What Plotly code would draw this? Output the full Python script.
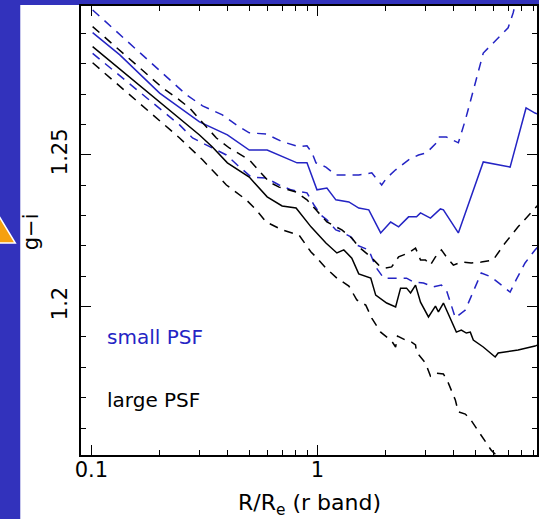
import plotly.graph_objects as go

# ---- data ----
small_up_x = [0.1012, 0.2634, 0.310, 0.3796, 0.4375, 0.4991, 0.5929, 0.6976, 0.8289, 0.8988, 0.9458, 0.9849, 1.090, 1.206, 1.419, 1.523, 1.739, 1.810, 1.924, 2.024, 2.217, 2.530, 2.800, 3.037, 3.361, 3.429, 3.719, 4.201, 4.511, 4.993, 5.415, 6.177, 6.976, 7.340, 7.490, 7.643]
small_up_y = [1.2978, 1.2698, 1.2662, 1.2632, 1.2599, 1.2573, 1.2569, 1.2544, 1.2527, 1.2530, 1.2507, 1.2474, 1.2460, 1.2434, 1.2434, 1.2434, 1.2441, 1.2424, 1.2401, 1.2424, 1.2451, 1.2484, 1.2500, 1.2507, 1.2540, 1.2559, 1.2559, 1.2540, 1.2615, 1.2737, 1.2836, 1.2879, 1.2919, 1.2968, 1.2995, 1.3021]

small_med_x = [0.1012, 0.1335, 0.2003, 0.2454, 0.3006, 0.3994, 0.4991, 0.5990, 0.8123, 0.8988, 0.995, 1.101, 1.206, 1.377, 1.523, 1.687, 1.904, 2.108, 2.286, 2.530, 2.744, 2.857, 3.162, 3.499, 3.608, 4.201, 5.415, 7.118, 8.374, 9.175, 9.458]
small_med_y = [1.2903, 1.2830, 1.2704, 1.2655, 1.2609, 1.2566, 1.2516, 1.2516, 1.2474, 1.2474, 1.2385, 1.2391, 1.2352, 1.2345, 1.2325, 1.2319, 1.2243, 1.2279, 1.2263, 1.2296, 1.2296, 1.2309, 1.2292, 1.2322, 1.2319, 1.2243, 1.2477, 1.2460, 1.2655, 1.2638, 1.2635]

small_lo_x = [0.1012, 0.2454, 0.280, 0.3429, 0.3954, 0.4419, 0.5093, 0.5929, 0.6768, 0.7645, 0.8988, 0.9652, 1.036, 1.101, 1.206, 1.282, 1.405, 1.493, 1.687, 1.810, 1.963, 2.217, 2.479, 2.662, 2.946, 3.260, 3.536, 3.719, 4.075, 4.511, 5.306, 5.870, 7.118, 7.566, 8.289, 9.175, 9.458]
small_lo_y = [1.2835, 1.2599, 1.2556, 1.2523, 1.2500, 1.2467, 1.2427, 1.2424, 1.2401, 1.2385, 1.2375, 1.2335, 1.2302, 1.2286, 1.2253, 1.2246, 1.2230, 1.2203, 1.2187, 1.2131, 1.2094, 1.2094, 1.2094, 1.2081, 1.2078, 1.2065, 1.2071, 1.2055, 1.1963, 1.1989, 1.2111, 1.2098, 1.2048, 1.2088, 1.2144, 1.2187, 1.2197]

large_up_x = [0.1012, 0.2065, 0.2454, 0.2716, 0.3228, 0.3572, 0.4075, 0.4991, 0.6113, 0.6768, 0.8042, 0.8988, 0.9849, 1.101, 1.282, 1.419, 1.523, 1.721, 1.866, 2.004, 2.129, 2.286, 2.530, 2.716, 2.857, 3.006, 3.162, 3.327, 3.536, 3.719, 3.994, 4.331, 4.794, 5.306, 5.991, 6.768, 7.722, 8.810, 9.458]
large_up_y = [1.2923, 1.2721, 1.2681, 1.2655, 1.2592, 1.2556, 1.2523, 1.2484, 1.2411, 1.2394, 1.2378, 1.2352, 1.2319, 1.2279, 1.2253, 1.2226, 1.2197, 1.2164, 1.2137, 1.2127, 1.2131, 1.2164, 1.2177, 1.2193, 1.2154, 1.2154, 1.2137, 1.2164, 1.2187, 1.2164, 1.2137, 1.2147, 1.2144, 1.2147, 1.2154, 1.2210, 1.2263, 1.2312, 1.2335]

large_med_x = [0.1012, 0.2454, 0.3006, 0.3429, 0.3994, 0.4991, 0.5990, 0.6976, 0.8042, 0.9363, 1.090, 1.219, 1.308, 1.419, 1.523, 1.721, 1.810, 2.024, 2.217, 2.332, 2.479, 2.582, 2.716, 2.857, 3.099, 3.327, 3.429, 3.608, 3.913, 4.117, 4.331, 4.557, 4.746, 4.893, 5.415, 6.114, 6.304, 7.722, 9.175, 9.458]
large_med_y = [1.2857, 1.2622, 1.2566, 1.2526, 1.2474, 1.2427, 1.2362, 1.2332, 1.2325, 1.2263, 1.2210, 1.2177, 1.2187, 1.2160, 1.2108, 1.2094, 1.2038, 1.2012, 1.1999, 1.2061, 1.2061, 1.2045, 1.2071, 1.2015, 1.1966, 1.2002, 1.1983, 1.2012, 1.1950, 1.1916, 1.1923, 1.1913, 1.1916, 1.1890, 1.1867, 1.1834, 1.1847, 1.1857, 1.1870, 1.1874]

large_lo_x = [0.1012, 0.2454, 0.310, 0.3954, 0.4842, 0.5358, 0.5929, 0.6976, 0.8289, 0.9363, 0.9849, 1.090, 1.219, 1.377, 1.493, 1.636, 1.739, 1.904, 2.129, 2.217, 2.262, 2.454, 2.609, 2.716, 2.744, 3.006, 3.162, 3.327, 3.608, 3.796, 4.075, 4.201, 4.511, 4.746, 5.147, 5.870, 6.177, 6.430]
large_lo_y = [1.2804, 1.2556, 1.2484, 1.2401, 1.2352, 1.2319, 1.2279, 1.2253, 1.2236, 1.2180, 1.2164, 1.2127, 1.2094, 1.2068, 1.2022, 1.2005, 1.1962, 1.1916, 1.1887, 1.1867, 1.1903, 1.1890, 1.1883, 1.1874, 1.1850, 1.1814, 1.1771, 1.1781, 1.1778, 1.1748, 1.1692, 1.1653, 1.1646, 1.1629, 1.1590, 1.1527, 1.1511, 1.1494]

x_major = [0.1, 1]
x_major_text = ["0.1", "1"]
x_minor = [0.2, 0.3, 0.4, 0.5, 0.6, 0.7, 0.8, 0.9, 2, 3, 4, 5, 6, 7, 8, 9]
y_major = [1.2, 1.25]
y_major_text = ["1.2", "1.25"]
y_minor = [1.16, 1.17, 1.18, 1.19, 1.21, 1.22, 1.23, 1.24, 1.26, 1.27, 1.28, 1.29]

BLUE = "#2424c4"
BLACK = "#000000"
SLIDE = "#3232bc"
FONT = "DejaVu Sans"

fig = go.Figure()
series = [
    (small_up_x, small_up_y, BLUE, "9px,7px"),
    (small_lo_x, small_lo_y, BLUE, "9px,7px"),
    (small_med_x, small_med_y, BLUE, "solid"),
    (large_up_x, large_up_y, BLACK, "9px,7px"),
    (large_lo_x, large_lo_y, BLACK, "9px,7px"),
    (large_med_x, large_med_y, BLACK, "solid"),
]
for xs, ys, col, dash in series:
    fig.add_trace(go.Scatter(x=xs, y=ys, mode="lines",
                             line=dict(color=col, width=1.5, dash=dash),
                             showlegend=False, hoverinfo="skip"))

W, H = 539, 519
L, R, T, B = 81, 0, 6, 64
pw, ph = W - L - R, H - T - B

def px2paper_x(px):
    return (px - L) / pw

def px2paper_y(py):
    return (H - B - py) / ph

fig.update_layout(
    width=W, height=H,
    margin=dict(l=L, r=R, t=T, b=B, pad=0),
    paper_bgcolor=SLIDE,
    plot_bgcolor="white",
    font=dict(family=FONT, size=21, color="black"),
    xaxis=dict(type="log", range=[-1.0463, 0.9714],
               tickmode="array", tickvals=x_major, ticktext=x_major_text,
               ticks="inside", ticklen=10, tickwidth=1.3, tickcolor="black",
               showline=True, linecolor="black", linewidth=1.5, mirror="ticks",
               showgrid=False, zeroline=False, ticklabelstandoff=-5,
               minor=dict(tickmode="array", tickvals=x_minor, ticks="inside",
                          ticklen=5, tickwidth=1.2, tickcolor="black", showgrid=False)),
    yaxis=dict(range=[1.1511, 1.2991],
               tickmode="array", tickvals=y_major, ticktext=y_major_text,
               tickangle=-90,
               ticks="inside", ticklen=10, tickwidth=1.3, tickcolor="black",
               showline=True, linecolor="black", linewidth=1.5, mirror="ticks",
               showgrid=False, zeroline=False, ticklabelstandoff=4,
               minor=dict(tickmode="array", tickvals=y_minor, ticks="inside",
                          ticklen=5, tickwidth=1.2, tickcolor="black", showgrid=False)),
)

# white slide panel
fig.add_shape(type="rect", xref="paper", yref="paper", layer="below",
              x0=px2paper_x(20), x1=px2paper_x(545), y0=px2paper_y(525), y1=px2paper_y(5),
              fillcolor="white", line=dict(width=0))
# orange arrow fragment at left edge
ax0, ay0 = px2paper_x(-2), px2paper_y(215)
ax1, ay1 = px2paper_x(15), px2paper_y(243)
ax2, ay2 = px2paper_x(-2), px2paper_y(243)
fig.add_shape(type="path", xref="paper", yref="paper", layer="above",
              path=f"M {ax0} {ay0} L {ax1} {ay1} L {ax2} {ay2} Z",
              fillcolor="#f5a00f", line=dict(color="white", width=1.5))

fig.add_annotation(text="g−i", xref="paper", yref="paper",
                   x=px2paper_x(31), y=px2paper_y(232), textangle=-90,
                   showarrow=False, xanchor="center", yanchor="middle",
                   font=dict(family=FONT, size=21, color="black"))
fig.add_annotation(text="R/R<sub>e</sub> (r band)", xref="paper", yref="paper",
                   x=px2paper_x(311), y=px2paper_y(504),
                   showarrow=False, xanchor="center", yanchor="middle",
                   font=dict(family=FONT, size=22, color="black"))
fig.add_annotation(text="small PSF", xref="paper", yref="paper",
                   x=px2paper_x(105), y=px2paper_y(337),
                   showarrow=False, xanchor="left", yanchor="middle",
                   font=dict(family=FONT, size=20, color=BLUE))
fig.add_annotation(text="large PSF", xref="paper", yref="paper",
                   x=px2paper_x(105), y=px2paper_y(400),
                   showarrow=False, xanchor="left", yanchor="middle",
                   font=dict(family=FONT, size=20, color="black"))

fig.write_html("out.html")
